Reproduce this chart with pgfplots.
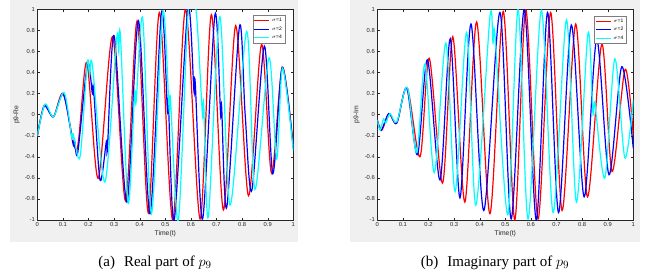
\documentclass[border=0pt]{standalone}
\usepackage{fontspec}
\setmainfont{Liberation Serif}
\newfontfamily\axfont{Liberation Sans}
\usepackage{pgfplots}
\pgfplotsset{compat=1.18}
\definecolor{mred}{RGB}{255,0,0}
\definecolor{mblue}{RGB}{0,0,255}
\definecolor{mcyan}{RGB}{0,255,255}
\definecolor{figgrey}{RGB}{240,240,240}
\definecolor{axgrey}{RGB}{38,38,38}
\pgfplotsset{
 mystyle/.style={
  scale only axis, width=256pt, height=210.7pt,
  xmin=0, xmax=1, ymin=-1, ymax=1,
  xtick={0,0.1,0.2,0.3,0.4,0.5,0.6,0.7,0.8,0.9,1},
  ytick={-1,-0.8,-0.6,-0.4,-0.2,0,0.2,0.4,0.6,0.8,1},
  yticklabels={-1,-0.8,-0.6,-0.4,-0.2,0,0.2,0.4,0.6,0.8,1},
  xticklabels={0,0.1,0.2,0.3,0.4,0.5,0.6,0.7,0.8,0.9,1},
  tick align=inside, tick pos=both, major tick length=2.5pt,
  axis line style={axgrey, line width=0.5pt},
  tick style={axgrey, line width=0.4pt},
  tick label style={font=\axfont\fontsize{5.8}{6}\selectfont, color=axgrey},
  xticklabel style={yshift=1pt},
  yticklabel style={xshift=1pt},
  label style={font=\axfont\fontsize{6.8}{7}\selectfont, color=axgrey},
  xlabel style={yshift=3pt},
  ylabel style={yshift=-2pt},
  axis background/.style={fill=white},
  legend style={font=\axfont\fontsize{5}{5.5}\selectfont, draw=axgrey!60, fill=white,
    anchor=north east, inner sep=1pt, row sep=-0.5pt, cells={anchor=west}},
  legend image code/.code={\draw[#1] (0pt,0pt) -- (15pt,0pt);},
  every axis plot/.append style={line width=1.2pt, smooth, tension=0.5},
 }
}
\begin{document}
\begin{tikzpicture}[x=1pt,y=1pt]
\path[use as bounding box] (0,0) rectangle (646,279);
\fill[figgrey] (10,37) rectangle (298,279);
\fill[figgrey] (350,37) rectangle (640,279);

\begin{axis}[mystyle, at={(37.3pt,59pt)}, anchor=south west,
  xlabel={Time(t)}, ylabel={p9-Re},
  legend style={at={(axis description cs:0.968,0.973)}}]
\addplot[mred] coordinates {
(0,-0.21) (0.027,0.09) (0.063,-0.02) (0.102,0.20) (0.154,-0.335) (0.193,0.496)
(0.238,-0.605) (0.294,0.74) (0.345,-0.82) (0.39,0.89) (0.434,-0.935) (0.477,0.97)
(0.529,-1.0) (0.579,1.0) (0.636,-0.99) (0.68,0.95) (0.727,-0.905) (0.775,0.845)
(0.825,-0.77) (0.876,0.667) (0.915,-0.557) (0.957,0.45) (1.0,-0.30)};
\addlegendentry{$\sigma$=1}
\addplot[mblue] coordinates {
(0,-0.2) (0.027,0.08) (0.063,-0.02) (0.102,0.19) (0.140,-0.28) (0.146,-0.25) (0.158,-0.36)
(0.196,0.48) (0.215,0.20) (0.22,0.24) (0.245,-0.62) (0.27,-0.25) (0.274,-0.32) (0.30,0.75)
(0.35,-0.83) (0.395,0.89) (0.44,-0.94) (0.485,0.97) (0.508,0.05) (0.512,0.12) (0.535,-1.0)
(0.588,1.0) (0.612,0.22) (0.617,0.30) (0.646,-0.99) (0.694,0.95) (0.716,0.0) (0.72,0.08)
(0.74,-0.88) (0.79,0.84) (0.812,0.0) (0.838,-0.72) (0.887,0.65) (0.92,-0.56) (0.957,0.45)
(1.0,-0.32)};
\addlegendentry{$\sigma$=2}
\addplot[mcyan] coordinates {
(0,-0.2) (0.03,0.10) (0.063,-0.02) (0.105,0.21) (0.135,-0.22) (0.14,-0.18) (0.167,-0.40)
(0.195,0.49) (0.205,0.38) (0.215,0.47) (0.264,-0.64) (0.31,0.72) (0.318,0.60) (0.325,0.74)
(0.355,-0.84) (0.38,0.2) (0.386,0.12) (0.412,0.91) (0.446,-0.94) (0.49,0.97)
(0.515,0.05) (0.52,0.15) (0.551,-1.0) (0.59,1.0) (0.62,0.99) (0.645,0.0) (0.65,0.1)
(0.668,-0.97) (0.713,0.93) (0.753,-0.86) (0.818,0.79) (0.85,-0.71) (0.905,0.54)
(0.935,-0.42) (0.958,0.44) (1.0,-0.34)};
\addlegendentry{$\sigma$=4}
\end{axis}

\begin{axis}[mystyle, at={(377.3pt,59pt)}, anchor=south west,
  xlabel={Time(t)}, ylabel={p9-Im},
  legend style={at={(axis description cs:0.974,0.97)}}]
\addplot[mred] coordinates {
(0,-0.05) (0.018,-0.146) (0.045,0.01) (0.076,-0.08) (0.117,0.256) (0.167,-0.40)
(0.203,0.535) (0.255,-0.65) (0.295,0.74) (0.342,-0.83) (0.388,0.88) (0.44,-0.94)
(0.492,0.98) (0.537,-1.0) (0.58,1.0) (0.628,-0.99) (0.677,0.97) (0.722,-0.91)
(0.775,0.86) (0.821,-0.78) (0.877,0.67) (0.917,-0.54) (0.968,0.43) (1.0,-0.2)};
\addlegendentry{$\sigma$=1}
\addplot[mblue] coordinates {
(0,-0.05) (0.015,-0.15) (0.045,0.01) (0.076,-0.08) (0.115,0.25) (0.157,-0.38)
(0.196,0.52) (0.245,-0.62) (0.285,0.72) (0.323,-0.79) (0.366,0.86) (0.416,-0.91)
(0.479,0.97) (0.523,-0.99) (0.574,1.0) (0.621,-1.0) (0.665,0.97) (0.708,-0.93)
(0.758,0.85) (0.808,-0.78) (0.857,0.71) (0.905,-0.57) (0.955,0.455) (1.0,-0.32)};
\addlegendentry{$\sigma$=2}
\addplot[mcyan] coordinates {
(0,-0.05) (0.011,-0.146) (0.024,-0.04) (0.033,-0.08) (0.05,0.01) (0.076,-0.07)
(0.117,0.26) (0.154,-0.36) (0.186,0.48) (0.223,-0.55) (0.268,0.68) (0.304,-0.73)
(0.349,0.78) (0.385,-0.86) (0.44,0.93) (0.452,0.68) (0.46,0.74) (0.51,-0.95)
(0.55,1.0) (0.589,-0.99) (0.641,0.99) (0.687,-0.93) (0.739,0.90) (0.778,-0.83)
(0.823,0.77) (0.842,0.02) (0.85,0.10) (0.889,-0.60) (0.928,0.53) (0.967,-0.41)
(1.0,0.14)};
\addlegendentry{$\sigma$=4}
\end{axis}

\node[font=\fontsize{15}{17}\selectfont] at (155,16) {(a)\hspace{0.6em}Real part of $p_9$};
\node[font=\fontsize{15}{17}\selectfont] at (495,16) {(b)\hspace{0.6em}Imaginary part of $p_9$};
\end{tikzpicture}
\end{document}
